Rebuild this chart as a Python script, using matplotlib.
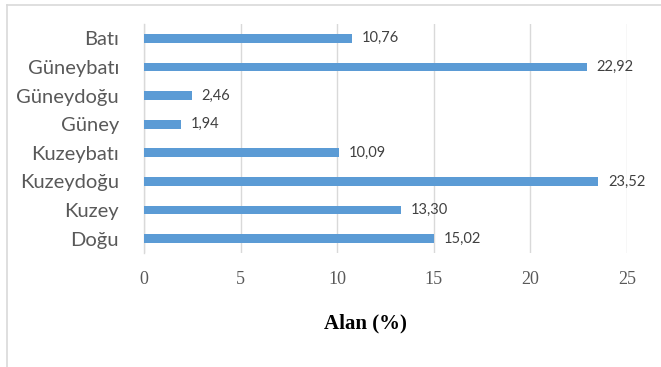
import matplotlib
matplotlib.use("Agg")
import matplotlib.pyplot as plt
from matplotlib.lines import Line2D

# Yön bazında alan payları (alttan üste)
yonler = ["Doğu", "Kuzey", "Kuzeydoğu", "Kuzeybatı", "Güney", "Güneydoğu", "Güneybatı", "Batı"]
alan = [15.02, 13.30, 23.52, 10.09, 1.94, 2.46, 22.92, 10.76]
x_ticks = [0, 5, 10, 15, 20, 25]

W, H = 661, 367
fig = plt.figure(figsize=(W / 100, H / 100), dpi=100)
ax = fig.add_axes([144 / W, 1 - 253 / H, (627 - 144) / W, (253 - 24) / H])

pos = range(len(yonler))
ax.barh(pos, alan, height=0.31, color="#5B9BD5", zorder=3)
for y, v in zip(pos, alan):
    ax.text(v + 0.5, y, f"{v:.2f}".replace(".", ","), va="center", ha="left",
            fontsize=10.5, color="#404040", family="Lato")

ax.set_xlim(0, 25)
ax.set_ylim(-0.5, len(yonler) - 0.5)
ax.set_xticks(x_ticks)
ax.set_xticklabels([str(t) for t in x_ticks], family="Liberation Serif",
                   fontsize=13, color="#595959")
ax.set_yticks(list(pos))
ax.set_yticklabels(yonler, family="Lato", fontsize=14.5, color="#595959")
ax.tick_params(axis="both", length=0)
ax.tick_params(axis="x", pad=13)
ax.tick_params(axis="y", pad=18)
ax.grid(axis="x", color="#D9D9D9", linewidth=1, zorder=0)
for s in ["top", "right", "bottom"]:
    ax.spines[s].set_visible(False)
ax.spines["left"].set_color("#D9D9D9")
ax.spines["left"].set_linewidth(1)

fig.text(365.5 / W, 1 - 323 / H, "Alan (%)", family="Liberation Serif", fontsize=15,
         fontweight="bold", color="black", ha="center", va="center")

# çerçeve çizgileri (üst ve sol)
fx = 7 / W
fy = 1 - 5 / H
fig.add_artist(Line2D([fx, 1], [fy, fy], transform=fig.transFigure, color="#D9D9D9", lw=1.2))
fig.add_artist(Line2D([fx, fx], [0, fy], transform=fig.transFigure, color="#D9D9D9", lw=1.2))

fig.savefig("out.png", dpi=100)
